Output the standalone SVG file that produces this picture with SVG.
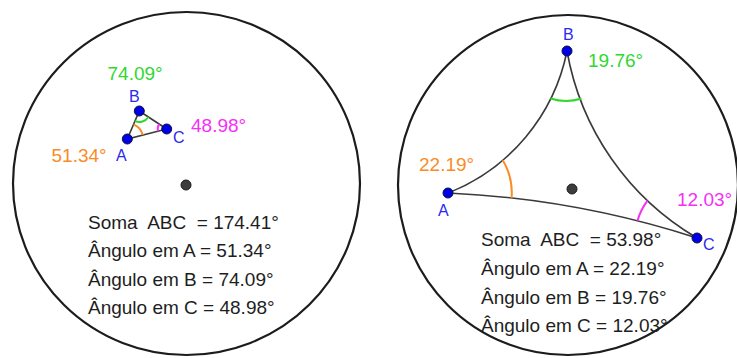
<svg xmlns="http://www.w3.org/2000/svg" width="737" height="358" viewBox="0 0 737 358">
<style>
.bd{fill:none;stroke:#1c1c1c;stroke-width:2.2}
.sd{fill:none;stroke:#3a3a3a;stroke-width:1.6}
.mk{fill:none;stroke-width:2}
.pt{fill:#0000e8;stroke:#10103a;stroke-width:1}
.ct{fill:#3c3c3c;stroke:#1a1a1a;stroke-width:1}
text{font-family:"Liberation Sans",Arial,sans-serif;font-size:19px;white-space:pre}
.tx{fill:#1e1e1e}
.lb{fill:#2a2af0;font-size:16px}
.g{fill:#2fd82f}.o{fill:#fa8c28}.m{fill:#f52ff5}
</style>
<rect width="737" height="358" fill="#ffffff"/>
<g id="left">
<ellipse class="bd" cx="186.5" cy="183.5" rx="173.5" ry="171.5"/>
<g id="left-sides">
<path class="sd" d="M127.3 139 L139.3 111 L166.7 129 Z"/>
</g>
<path class="mk" stroke="#fa8c28" d="M133.6 124.3 A16 16 0 0 1 142.8 135.1"/>
<path class="mk" stroke="#2fd82f" d="M135 121.1 A11 11 0 0 0 148.5 117"/>
<path class="mk" stroke="#f52ff5" d="M159.2 124.1 A9 9 0 0 0 158 131.2"/>
<circle class="pt" cx="127.3" cy="139" r="5"/>
<circle class="pt" cx="139.3" cy="111" r="5"/>
<circle class="pt" cx="166.7" cy="129" r="5"/>
<circle class="ct" cx="186" cy="185" r="5"/>
<text class="g" x="107.5" y="80">74.09°</text>
<text class="lb" x="129" y="102">B</text>
<text class="m" x="191" y="131.5">48.98°</text>
<text class="lb" x="173" y="142.5">C</text>
<text class="o" x="51.5" y="161.5">51.34°</text>
<text class="lb" x="116" y="160.5">A</text>
<text class="tx" x="88" y="228.5">Soma  ABC  = 174.41°</text>
<text class="tx" x="88" y="257">Ângulo em A = 51.34°</text>
<text class="tx" x="88" y="285.5">Ângulo em B = 74.09°</text>
<text class="tx" x="88" y="314">Ângulo em C = 48.98°</text>
</g>
<g id="right">
<circle class="bd" cx="568" cy="185" r="170"/>
<g id="right-sides">
<path class="sd" d="M448 193 A193.4 193.4 0 0 0 567 51"/>
<path class="sd" d="M567 51 A271.5 271.5 0 0 0 697 238"/>
<path class="sd" d="M448 193 A944 944 0 0 1 697 238"/>
</g>
<path class="mk" stroke="#2fd82f" d="M550.5 98.5 A50 50 0 0 0 581.5 98.5"/>
<path class="mk" stroke="#fa8c28" d="M502.8 160.2 A64 64 0 0 1 511.6 197.9"/>
<path class="mk" stroke="#f52ff5" d="M647.5 200.7 A62 62 0 0 0 637.5 220.8"/>
<circle class="pt" cx="448" cy="193" r="5"/>
<circle class="pt" cx="567" cy="51" r="5"/>
<circle class="pt" cx="697" cy="238" r="5"/>
<circle class="ct" cx="572" cy="189" r="5"/>
<text class="lb" x="563" y="40">B</text>
<text class="g" x="588" y="67">19.76°</text>
<text class="o" x="419" y="170.5">22.19°</text>
<text class="lb" x="438" y="215.5">A</text>
<text class="m" x="677" y="206">12.03°</text>
<text class="lb" x="703" y="250">C</text>
<text class="tx" x="481" y="246">Soma  ABC  = 53.98°</text>
<text class="tx" x="481" y="275">Ângulo em A = 22.19°</text>
<text class="tx" x="481" y="303.5">Ângulo em B = 19.76°</text>
<text class="tx" x="481" y="331.5">Ângulo em C = 12.03°</text>
</g>
</svg>
